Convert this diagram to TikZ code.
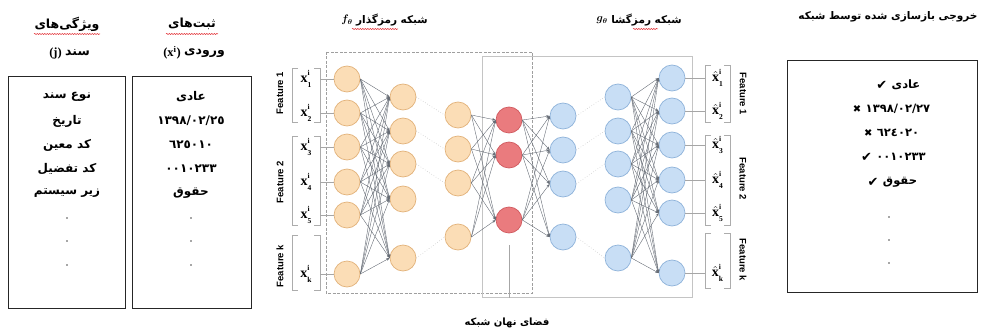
\documentclass[tikz,border=0pt]{standalone}
\usepackage{fontspec}
\usepackage{amsmath}
\setmainfont{Liberation Serif}
\newfontfamily\arabicfont[Script=Arabic]{DejaVu Sans}
\newfontfamily\featfont{Liberation Sans}
\newfontfamily\symfont{DejaVu Sans}
\TeXXeTstate=1
\usetikzlibrary{arrows.meta,decorations.pathmorphing,positioning}
\definecolor{encfill}{HTML}{FBDDB6}
\definecolor{encline}{HTML}{E2B27A}
\definecolor{latfill}{HTML}{EA7B7E}
\definecolor{latline}{HTML}{D05A5F}
\definecolor{decfill}{HTML}{C8DEF5}
\definecolor{decline}{HTML}{8FB3DA}
\definecolor{wirec}{HTML}{666C75}
\definecolor{framegray}{HTML}{C4C4C4}
\definecolor{spellred}{HTML}{E0242A}
% Persian text, set right to left
\newcommand{\fa}[1]{{\arabicfont\bfseries\beginR #1\endR}}
\newcommand{\fanum}[1]{{\arabicfont\bfseries #1}}
\newcommand{\okmark}{{\symfont\fontsize{13}{14}\selectfont ✔}}
\newcommand{\badmark}{{\symfont\fontsize{10}{12}\selectfont ✖}}
% feature symbol with stacked index and position
\newcommand{\featsym}[2]{#1\rlap{\raisebox{7pt}{\fontsize{7.5}{8}\selectfont\bfseries i}}\raisebox{-4.5pt}{\fontsize{7.5}{8}\selectfont\bfseries #2}}

\begin{document}
\begin{tikzpicture}[x=1pt,y=-1pt,
  neuron/.style={circle, minimum size=26pt, inner sep=0pt, line width=0.7pt},
  encn/.style={neuron, fill=encfill, draw=encline},
  latn/.style={neuron, fill=latfill, draw=latline},
  decn/.style={neuron, fill=decfill, draw=decline},
  wire/.style={draw=wirec, line width=0.4pt, -{Stealth[length=3.5pt,width=2.6pt]}},
  faint/.style={draw=gray!45, line width=0.6pt, dotted},
  tick/.style={draw=gray!70, line width=0.6pt},
  brk/.style={draw=gray!65, line width=0.6pt},
  listbox/.style={draw=black!85, line width=1.3pt, anchor=north west, inner sep=0pt},
  rowtxt/.style={font=\fontsize{12}{14}\selectfont, inner sep=0pt},
  outtxt/.style={font=\fontsize{11.5}{14}\selectfont, inner sep=0pt},
  marktxt/.style={inner sep=0pt, left=4pt of #1},
  headtxt/.style={font=\fontsize{12.5}{14}\selectfont, inner sep=0pt},
  nettitle/.style={font=\fontsize{10.5}{12}\selectfont, inner sep=0pt},
  feat/.style={font=\featfont\bfseries\fontsize{9.5}{11}\selectfont, inner sep=0pt},
  xlab/.style={font=\fontsize{14}{15}\selectfont, inner sep=0pt},
  spell/.style={draw=spellred, line width=0.5pt, decorate,
    decoration={snake, amplitude=0.6pt, segment length=2.5pt}},
  dotmark/.style={fill=black!70}
]
\useasboundingbox (0,0) rectangle (981,334);

% ---------- left lists ----------
\node[headtxt] (h1a) at (67,24) {\fa{ویژگی‌های}};
\node[headtxt, anchor=east] (h1b) at (90,53) {\fa{سند}};
\node[headtxt, left=3pt of h1b] (h1c) {\textbf{(j)}};
\node[headtxt] (h2a) at (192,24) {\fa{ثبت‌های}};
\node[headtxt, anchor=east] (h2b) at (225,53) {\fa{ورودی}};
\node[headtxt, left=3pt of h2b] (h2c) {\textbf{(x\textsuperscript{i})}};
\draw[spell] (34,34) -- (100,34);
\draw[spell] (166,34) -- (218,34);

\node[listbox, minimum width=117pt, minimum height=232pt] (b1) at (8,76) {};
\node[listbox, minimum width=119pt, minimum height=232pt] (b2) at (132,76) {};

\node[rowtxt] (r11) at (67,97) {\fa{نوع سند}};
\node[rowtxt] (r12) at (67,121) {\fa{تاریخ}};
\node[rowtxt] (r13) at (67,145) {\fa{کد معین}};
\node[rowtxt] (r14) at (67,169) {\fa{کد تفضیل}};
\node[rowtxt] (r15) at (67,193) {\fa{زیر سیستم}};

\node[rowtxt] (r21) at (191,97) {\fa{عادی}};
\node[rowtxt] (r22) at (191,121) {\fanum{١٣٩٨/٠٢/٢٥}};
\node[rowtxt] (r23) at (191,145) {\fanum{٦٢٥٠١٠}};
\node[rowtxt] (r24) at (191,169) {\fanum{٠٠١٠٢٣٣}};
\node[rowtxt] (r25) at (191,193) {\fa{حقوق}};

\foreach \yy in {218,241,265}{
  \fill[dotmark] (67,\yy) circle (0.9pt);
  \fill[dotmark] (191,\yy) circle (0.9pt);
}

% ---------- network titles ----------
\node[nettitle, anchor=east] (tenc) at (428,20) {\fa{شبکه رمزگذار}};
\node[nettitle, left=3pt of tenc] (tencf) {$\boldsymbol{f_{\theta}}$};
\node[nettitle, anchor=east] (tdec) at (682,20) {\fa{شبکه رمزگشا}};
\node[nettitle, left=3pt of tdec] (tdecg) {$\boldsymbol{g_{\theta}}$};
\node[nettitle] (tout) at (888,17) {\fa{خروجی بازسازی شده توسط شبکه}};
\draw[spell] (352,29) -- (398,29);
\draw[spell] (633,29) -- (658,29);

% ---------- frames ----------
\draw[draw=gray!75, line width=0.6pt, dash pattern=on 3pt off 1.5pt] (326,52) rectangle (532,293);
\draw[draw=framegray, line width=1pt] (482,57) rectangle (692,297);

% ---------- neurons ----------
\foreach \n/\yy in {1/79,2/113,3/147,4/182,5/215,6/274} \node[encn] (i\n) at (347,\yy) {};
\foreach \n/\yy in {1/97,2/131,3/164,4/199,5/258} \node[encn] (h\n) at (403,\yy) {};
\foreach \n/\yy in {1/115,2/149,3/183,4/237} \node[encn] (m\n) at (458,\yy) {};
\foreach \n/\yy in {1/120,2/155,3/220} \node[latn] (z\n) at (509,\yy) {};
\foreach \n/\yy in {1/116,2/150,3/184,4/237} \node[decn] (d\n) at (563,\yy) {};
\foreach \n/\yy in {1/97,2/131,3/164,4/200,5/258} \node[decn] (e\n) at (618,\yy) {};
\foreach \n/\yy in {1/78,2/111,3/145,4/180,5/213,6/273} \node[decn] (o\n) at (672,\yy) {};

% ---------- weights ----------
\foreach \s in {1,...,6} \foreach \t in {1,...,5} \draw[wire] (i\s.east) -- (h\t.west);
\foreach \s in {1,...,4} \foreach \t in {1,...,3} \draw[wire] (m\s.east) -- (z\t.west);
\foreach \s in {1,...,3} \foreach \t in {1,...,4} \draw[wire] (z\s.east) -- (d\t.west);
\foreach \s in {1,...,5} \foreach \t in {1,...,6} \draw[wire] (e\s.east) -- (o\t.west);

% hidden layers left out
\foreach \s/\t in {1/1,2/2,3/3,5/4} \draw[faint] (h\s.east) -- (m\t.west);
\foreach \s/\t in {1/1,2/2,3/3,4/5} \draw[faint] (d\s.east) -- (e\t.west);

% ---------- latent space ----------
\node[font=\fontsize{10}{12}\selectfont, inner sep=0pt] (cap) at (507,323) {\fa{فضای نهان شبکه}};
\coordinate (capline) at (509,298);
\draw[draw=gray!70, line width=0.6pt] ([yshift=-12pt]z3.south) -- (capline);

% ---------- feature groups ----------
\coordinate (fb1-nw) at (292,68);  \coordinate (fb1-se) at (320,122);
\coordinate (fb2-nw) at (292,136); \coordinate (fb2-se) at (320,225);
\coordinate (fb3-nw) at (292,235); \coordinate (fb3-se) at (320,290);
\coordinate (ob1-nw) at (705,65);  \coordinate (ob1-se) at (730,122);
\coordinate (ob2-nw) at (705,135); \coordinate (ob2-se) at (730,225);
\coordinate (ob3-nw) at (705,233); \coordinate (ob3-se) at (730,288);
\foreach \b in {fb1,fb2,fb3,ob1,ob2,ob3}{
  \draw[brk] (\b-nw) ++(6,0) -- (\b-nw) -- (\b-nw |- \b-se) -- ++(6,0);
  \draw[brk] (\b-se) ++(-6,0) -- (\b-se) -- (\b-se |- \b-nw) -- ++(-6,0);
}

\foreach \n/\yy in {1/79,2/113,3/147,4/182,5/215,6/274}{
  \ifnum\n=6 \def\sub{k}\else \def\sub{\n}\fi
  \node[xlab] (xl\n) at (306,\yy) {\featsym{\textbf{x}}{\sub}};
}
\foreach \n/\yy in {1/78,2/111,3/145,4/180,5/213,6/273}{
  \ifnum\n=6 \def\sub{k}\else \def\sub{\n}\fi
  \node[xlab] (xo\n) at (717.5,\yy) {\featsym{$\hat{\mathbf{x}}$}{\sub}};
}

\draw[tick] (fb1-se |- i1) -- (i1.west);
\draw[tick] (fb1-se |- i2) -- (i2.west);
\draw[tick] (fb2-se |- i3) -- (i3.west);
\draw[tick] (fb2-se |- i4) -- (i4.west);
\draw[tick] (fb2-se |- i5) -- (i5.west);
\draw[tick] (fb3-se |- i6) -- (i6.west);
\draw[tick] (o1.east) -- (ob1-nw |- o1);
\draw[tick] (o2.east) -- (ob1-nw |- o2);
\draw[tick] (o3.east) -- (ob2-nw |- o3);
\draw[tick] (o4.east) -- (ob2-nw |- o4);
\draw[tick] (o5.east) -- (ob2-nw |- o5);
\draw[tick] (o6.east) -- (ob3-nw |- o6);

\node[feat, rotate=90] (fl1) at (280,93) {Feature 1};
\node[feat, rotate=90] (fl2) at (280,182) {Feature 2};
\node[feat, rotate=90] (fl3) at (280,266) {Feature k};
\node[feat, rotate=-90] (fr1) at (743,94) {Feature 1};
\node[feat, rotate=-90] (fr2) at (743,179) {Feature 2};
\node[feat, rotate=-90] (fr3) at (743,260) {Feature k};

% ---------- reconstructed output ----------
\node[listbox, minimum width=190pt, minimum height=232pt] (b3) at (787,60) {};
\node[outtxt] (r31) at (906,85) {\fa{عادی}};
\node[marktxt=r31] (k31) {\okmark};
\node[outtxt] (r32) at (898,109) {\fanum{١٣٩٨/٠٢/٢٧}};
\node[marktxt=r32] (k32) {\badmark};
\node[outtxt] (r33) at (898,133) {\fanum{٦٢٤٠٢٠}};
\node[marktxt=r33] (k33) {\badmark};
\node[outtxt] (r34) at (901,157) {\fanum{٠٠١٠٢٣٣}};
\node[marktxt=r34] (k34) {\okmark};
\node[outtxt] (r35) at (900,182) {\fa{حقوق}};
\node[marktxt=r35] (k35) {\okmark};
\foreach \yy in {217,240,263} \fill[dotmark] (889,\yy) circle (0.9pt);
\end{tikzpicture}
\end{document}
